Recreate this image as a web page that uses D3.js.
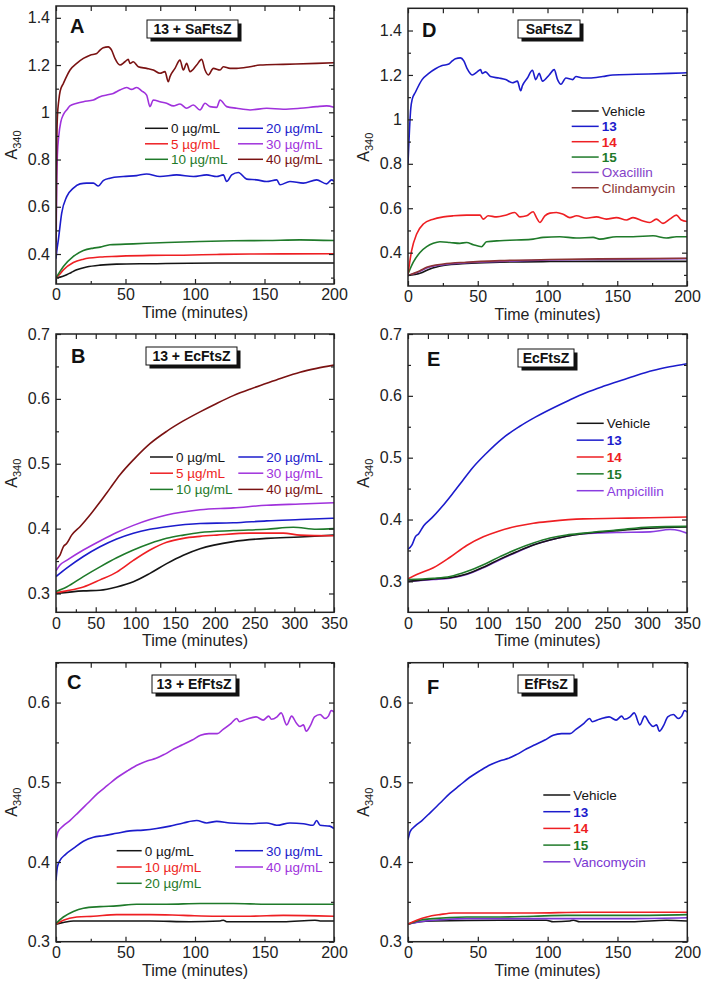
<!DOCTYPE html>
<html>
<head>
<meta charset="utf-8">
<script src="https://cdn.jsdelivr.net/npm/d3@7"></script>
<style>
  body { margin: 0; background: #fff; }
  text { font-family: Arial, "Liberation Sans", sans-serif; }
</style>
</head>
<body>
<svg id="fig" width="703" height="985"></svg>
<script>
// ---- SaFtsZ (panel A: 13 at several concentrations) ----
var sa0  = [[0,0.300],[3,0.302],[7.7,0.312],[11,0.322],[14.9,0.333],[22,0.345],[31.7,0.353],[43.6,0.357],[67.6,0.359],[115.6,0.362],[163.5,0.362],[200,0.362]];
var sa5  = [[0,0.300],[2,0.310],[5.3,0.333],[12.5,0.364],[19.7,0.378],[31.7,0.387],[43.6,0.390],[67.6,0.394],[91.6,0.395],[115.6,0.398],[139.6,0.400],[200,0.401]];
var sa10 = [[0,0.300],[2,0.318],[5.3,0.347],[12.5,0.390],[19.7,0.415],[26.9,0.425],[31.7,0.429],[38.8,0.439],[55.6,0.443],[79.6,0.449],[103.6,0.453],[127.6,0.456],[151.6,0.457],[175.5,0.460],[200,0.457]];
var sa20 = [[0,0.38],[0.5,0.41],[1.7,0.46],[4.1,0.573],[7.7,0.643],[12.5,0.679],[17.3,0.697],[22,0.700],[26.9,0.700],[30.5,0.688],[34,0.711],[38.8,0.721],[48.4,0.728],[58,0.732],[65.2,0.739],[74.8,0.728],[86.8,0.735],[98.8,0.728],[108.4,0.735],[115.6,0.728],[120.4,0.735],[122.8,0.707],[126.4,0.735],[131.2,0.745],[137.2,0.717],[144.4,0.714],[151.6,0.707],[158.8,0.714],[161.2,0.693],[168.3,0.707],[177.9,0.700],[187.5,0.714],[194.7,0.697],[198.3,0.714],[200,0.707]];
var sa30 = [[0,0.40],[0.5,0.70],[1,0.82],[2,0.90],[3.5,0.96],[5.3,0.99],[8,1.012],[10,1.027],[15,1.038],[19.7,1.045],[26.9,1.052],[31.7,1.066],[36.5,1.073],[41.2,1.080],[46,1.094],[50.8,1.105],[54.4,1.097],[58,1.105],[61.6,1.091],[65.2,1.073],[67.6,1.024],[70,1.052],[74.8,1.045],[79.6,1.038],[84.4,1.027],[89.2,1.035],[94,1.017],[98.8,1.031],[103.6,1.010],[107.2,1.038],[110.8,1.024],[115.6,1.021],[118,1.052],[122.8,1.024],[130,1.017],[139.6,1.010],[151.6,1.017],[163.5,1.013],[175.5,1.017],[187.5,1.024],[194.7,1.027],[200,1.021]];
var sa40 = [[0,0.45],[0.5,0.85],[1,0.98],[2,1.05],[3,1.09],[5.3,1.122],[10.1,1.179],[14.9,1.207],[19.7,1.228],[24.5,1.242],[29.3,1.249],[31.7,1.263],[34,1.273],[37.6,1.277],[40,1.263],[42.4,1.228],[46,1.200],[49.6,1.214],[52,1.224],[53.2,1.207],[55.6,1.214],[59.2,1.193],[65.2,1.186],[70,1.179],[74.8,1.165],[78.4,1.172],[80.8,1.129],[82,1.151],[85.6,1.186],[89.2,1.221],[91.6,1.179],[94,1.207],[96.4,1.172],[101.2,1.200],[104.8,1.224],[107.2,1.179],[109.6,1.158],[113.2,1.186],[118,1.179],[120.4,1.193],[125.2,1.186],[130,1.186],[139.6,1.193],[146.8,1.200],[163.5,1.203],[187.5,1.207],[200,1.210]];

// ---- SaFtsZ (panel D: compounds and antibiotics) ----
var saVeh = [[0,0.297],[8.6,0.307],[15.8,0.327],[25.3,0.342],[42,0.352],[65.9,0.357],[101.7,0.360],[137.5,0.361],[200,0.361]];
var sa13  = [[0,0.80]].concat(sa40.slice(3));
var sa14  = [[0,0.304],[2.6,0.409],[6.2,0.484],[11,0.529],[18.1,0.551],[25.3,0.561],[32.5,0.566],[42,0.569],[51.6,0.569],[53.9,0.551],[57.5,0.566],[63.5,0.561],[70.6,0.570],[76.6,0.581],[80.2,0.561],[85,0.566],[89.7,0.584],[92.1,0.558],[94.5,0.536],[98.1,0.566],[101.7,0.578],[106.4,0.581],[111.2,0.573],[116,0.558],[120.8,0.566],[127.9,0.555],[135.1,0.561],[142.2,0.551],[149.4,0.558],[156.6,0.547],[161.3,0.558],[168.5,0.543],[173.3,0.536],[178,0.551],[182.8,0.532],[187.6,0.551],[192.4,0.569],[196,0.547],[200,0.540]];
var sa15  = [[0,0.304],[3.8,0.357],[8.6,0.401],[13.4,0.427],[18.1,0.442],[22.9,0.449],[30,0.446],[37.2,0.442],[42,0.446],[46.8,0.436],[52.7,0.427],[56.3,0.449],[65.9,0.454],[77.8,0.457],[89.7,0.461],[96.9,0.469],[108.8,0.472],[120.8,0.466],[132.7,0.469],[137.5,0.461],[149.4,0.472],[161.3,0.472],[175.7,0.476],[185.2,0.466],[192.4,0.472],[200,0.472]];
var saOxa = [[0,0.297],[8.6,0.316],[13.4,0.331],[25.3,0.346],[42,0.355],[65.9,0.361],[101.7,0.367],[137.5,0.370],[200,0.373]];
var saCli = [[0,0.297],[8.6,0.319],[13.4,0.334],[25.3,0.349],[42,0.357],[65.9,0.364],[101.7,0.369],[137.5,0.372],[200,0.375]];

// ---- EcFtsZ (panel B) ----
var ec0  = [[0,0.300],[34.4,0.304],[55.4,0.305],[76.4,0.310],[97.4,0.318],[118.3,0.331],[139.3,0.346],[160.3,0.359],[181.3,0.369],[223.2,0.380],[265.2,0.385],[307.2,0.387],[350,0.390]];
var ec5  = [[0,0.301],[13.4,0.304],[34.4,0.310],[55.4,0.321],[76.4,0.333],[97.4,0.351],[118.3,0.367],[139.3,0.379],[160.3,0.385],[181.3,0.388],[202.3,0.390],[244.2,0.393],[286.2,0.393],[307.2,0.390],[350,0.389]];
var ec10 = [[0,0.303],[13.4,0.310],[34.4,0.326],[55.4,0.341],[76.4,0.355],[97.4,0.367],[118.3,0.377],[139.3,0.385],[160.3,0.390],[181.3,0.394],[223.2,0.397],[265.2,0.399],[298.8,0.402],[328,0.399],[350,0.400]];
var ec20 = [[0,0.326],[13.4,0.339],[34.4,0.357],[55.4,0.372],[76.4,0.384],[97.4,0.393],[118.3,0.399],[139.3,0.403],[181.3,0.408],[223.2,0.409],[265.2,0.412],[307.2,0.414],[350,0.416]];
var ec30 = [[0,0.335],[5,0.344],[13.4,0.351],[34.4,0.367],[55.4,0.381],[76.4,0.394],[97.4,0.405],[118.3,0.414],[139.3,0.421],[181.3,0.429],[223.2,0.432],[265.2,0.436],[307.2,0.438],[350,0.440]];
var ec40 = [[0,0.352],[5,0.359],[9.2,0.372],[13.4,0.377],[19.7,0.390],[30.2,0.403],[42.8,0.421],[55.4,0.441],[68,0.462],[80.6,0.483],[97.4,0.506],[118.3,0.531],[139.3,0.550],[160.3,0.566],[181.3,0.580],[202.3,0.593],[223.2,0.605],[244.2,0.615],[265.2,0.624],[286.2,0.633],[307.2,0.641],[328.2,0.647],[350,0.652]];

// ---- EcFtsZ (panel E) ----
var ecVeh = [[0,0.300],[31.8,0.304],[52.7,0.306],[73.6,0.312],[94.5,0.323],[115.4,0.336],[136.3,0.348],[157.3,0.359],[178.2,0.367],[199,0.373],[220,0.377],[261.8,0.382],[303.6,0.386],[350,0.388]];
var ec13  = ec40;
var ec14  = [[0,0.304],[10.9,0.311],[31.8,0.322],[52.7,0.339],[73.6,0.358],[94.5,0.372],[115.4,0.382],[136.3,0.389],[157.3,0.394],[178.2,0.397],[220,0.401],[261.8,0.402],[303.6,0.403],[350,0.404]];
var ec15  = [[0,0.303],[31.8,0.305],[52.7,0.308],[73.6,0.316],[94.5,0.327],[115.4,0.340],[136.3,0.352],[157.3,0.362],[178.2,0.370],[199,0.375],[220,0.378],[261.8,0.383],[303.6,0.388],[350,0.389]];
var ecAmp = [[0,0.300],[31.8,0.303],[52.7,0.305],[73.6,0.311],[94.5,0.322],[115.4,0.335],[136.3,0.347],[157.3,0.359],[178.2,0.367],[199,0.373],[220,0.377],[261.8,0.379],[303.6,0.380],[328.7,0.384],[341,0.382],[350,0.378]];

// ---- EfFtsZ (panel C) ----
var ef0  = [[0,0.322],[5.3,0.324],[12.5,0.326],[31.7,0.326],[67.6,0.326],[96.4,0.325],[118,0.326],[120.4,0.327],[122.8,0.325],[139.6,0.325],[163.5,0.325],[186.3,0.327],[190,0.326],[200,0.326]];
var ef10 = [[0,0.322],[5.3,0.327],[14.9,0.331],[26.9,0.332],[43.6,0.334],[67.6,0.334],[91.6,0.333],[115.6,0.332],[139.6,0.332],[163.5,0.333],[200,0.332]];
var ef20 = [[0,0.323],[5.3,0.331],[12.5,0.338],[19.7,0.342],[31.7,0.344],[43.6,0.345],[58,0.347],[79.6,0.347],[103.6,0.348],[127.6,0.348],[151.6,0.347],[175.5,0.347],[200,0.347]];
var ef30 = [[0,0.377],[1,0.394],[2.9,0.402],[6.5,0.409],[12.5,0.417],[19.7,0.426],[26.9,0.431],[34,0.433],[43.6,0.436],[53.2,0.439],[62.8,0.440],[72.4,0.442],[82,0.445],[91.6,0.449],[101.2,0.452],[108.4,0.449],[115.6,0.451],[125.2,0.449],[139.6,0.448],[151.6,0.449],[158.8,0.446],[168.3,0.449],[178,0.448],[185,0.446],[187.5,0.452],[190,0.446],[197,0.445],[200,0.442]];
var ef40 = [[0,0.428],[1.5,0.438],[5,0.445],[10,0.452],[16,0.462],[23,0.474],[30,0.486],[37,0.496],[44,0.506],[52,0.515],[59,0.522],[66,0.527],[72,0.530],[78,0.535],[85,0.542],[91,0.547],[98,0.553],[104,0.559],[110,0.561],[116,0.561],[120,0.566],[126,0.574],[130,0.580],[132,0.576],[137,0.579],[144,0.582],[149,0.578],[153,0.583],[155,0.579],[159,0.582],[162,0.587],[166,0.572],[169.5,0.583],[173,0.574],[175.5,0.570],[178,0.572],[180,0.564],[183,0.571],[186,0.582],[190,0.585],[193.5,0.580],[196,0.583],[198,0.590],[200,0.588]];

// ---- EfFtsZ (panel F) ----
var efVeh = [[0,0.322],[8.6,0.325],[18.1,0.326],[65.9,0.327],[99,0.327],[104,0.325],[116,0.326],[118.5,0.327],[123,0.325],[160,0.325],[185.2,0.327],[200,0.326]];
var ef13  = ef40;
var ef14  = [[0,0.322],[6.2,0.327],[13.4,0.331],[22.9,0.334],[32.5,0.336],[54,0.336],[89.7,0.336],[125.5,0.337],[161.3,0.337],[200,0.337]];
var ef15  = [[0,0.322],[8.6,0.327],[18.1,0.329],[42,0.331],[65.9,0.331],[89.7,0.332],[113.6,0.333],[161.3,0.333],[200,0.334]];
var efVan = [[0,0.322],[8.6,0.325],[18.1,0.327],[42,0.329],[89.7,0.329],[113.6,0.329],[161.3,0.329],[200,0.330]];

// legend labels
var concAB = ["0 µg/mL","5 µg/mL","10 µg/mL","20 µg/mL","30 µg/mL","40 µg/mL"];
var concC  = ["0 µg/mL","10 µg/mL","20 µg/mL","30 µg/mL","40 µg/mL"];
var cmpD   = ["Vehicle","13","14","15","Oxacillin","Clindamycin"];
var cmpE   = ["Vehicle","13","14","15","Ampicillin"];
var cmpF   = ["Vehicle","13","14","15","Vancomycin"];

// colours
var cBlack = "#151515", cRed = "#ee1f23", cGreen = "#1f7a2a", cBlue = "#1c1ccc",
    cPurple = "#a032dc", cBrown = "#7a1212", cOxa = "#8442c8", cCli = "#8c3434",
    cAmp = "#8a3ce0", cVan = "#7a36d2";

var xTicks200 = [0,50,100,150,200], xMinor200 = [25,75,125,175];
var xTicks350 = [0,50,100,150,200,250,300,350], xMinor350 = [25,75,125,175,225,275,325];

var panels = [
  {id:"A", box:[56,6,334,284], xd:[0,200], yd:[0.273,1.45], xt:xTicks200, xm:xMinor200,
   yt:[0.4,0.6,0.8,1,1.2,1.4], ym:[0.3,0.5,0.7,0.9,1.1,1.3],
   title:"13 + SaFtsZ", tb:[147,20,91,18], letter:[70,33],
   series:[sa0,sa5,sa10,sa20,sa30,sa40], colors:[cBlack,cRed,cGreen,cBlue,cPurple,cBrown],
   labels:concAB, bold:[0,0,0,0,0,0],
   leg:{cols:[145,238], len:[23,25], rows:3, y0:128.3, dy:15.5}},
  {id:"D", box:[408,8.3,687,286], xd:[0,200], yd:[0.25,1.5], xt:xTicks200, xm:xMinor200,
   yt:[0.4,0.6,0.8,1,1.2,1.4], ym:[0.3,0.5,0.7,0.9,1.1,1.3],
   title:"SaFtsZ", tb:[518,20,62,18], letter:[422,37],
   series:[saVeh,saOxa,saCli,sa15,sa14,sa13], colors:[cBlack,cOxa,cCli,cGreen,cRed,cBlue],
   legSeries:[cBlack,cBlue,cRed,cGreen,cOxa,cCli],
   labels:cmpD, bold:[0,1,1,1,0,0],
   leg:{cols:[571.7], len:[27], rows:6, y0:111, dy:15.35}},
  {id:"B", box:[56,334,334,612.3], xd:[0,350], yd:[0.271,0.7], xt:xTicks350, xm:xMinor350,
   yt:[0.3,0.4,0.5,0.6,0.7], ym:[0.35,0.45,0.55,0.65],
   title:"13 + EcFtsZ", tb:[146,347,91,18], letter:[71,363],
   series:[ec0,ec5,ec10,ec20,ec30,ec40], colors:[cBlack,cRed,cGreen,cBlue,cPurple,cBrown],
   labels:concAB, bold:[0,0,0,0,0,0],
   leg:{cols:[150,238.3], len:[23,25], rows:3, y0:457, dy:16.2}},
  {id:"E", box:[408,334,687,612.3], xd:[0,350], yd:[0.25,0.7], xt:xTicks350, xm:xMinor350,
   yt:[0.3,0.4,0.5,0.6,0.7], ym:[0.35,0.45,0.55,0.65],
   title:"EcFtsZ", tb:[518,349,56,18], letter:[427,366],
   series:[ec14,ecAmp,ecVeh,ec15,ec13], colors:[cRed,cAmp,cBlack,cGreen,cBlue],
   legSeries:[cBlack,cBlue,cRed,cGreen,cAmp],
   labels:cmpE, bold:[0,1,1,1,0],
   leg:{cols:[576.7], len:[27], rows:5, y0:423.3, dy:16.85}},
  {id:"C", box:[56,662.7,334,941.7], xd:[0,200], yd:[0.3,0.65], xt:xTicks200, xm:xMinor200,
   yt:[0.3,0.4,0.5,0.6], ym:[0.35,0.45,0.55,0.65],
   title:"13 + EfFtsZ", tb:[152,675,84,18], letter:[67,689],
   series:[ef0,ef10,ef20,ef30,ef40], colors:[cBlack,cRed,cGreen,cBlue,cPurple],
   labels:concC, bold:[0,0,0,0,0],
   leg:{cols:[116.7,235], len:[25,28], rows:3, y0:850.7, dy:16.3}},
  {id:"F", box:[408,662.7,687.3,941.7], xd:[0,200], yd:[0.3,0.65], xt:xTicks200, xm:xMinor200,
   yt:[0.3,0.4,0.5,0.6], ym:[0.35,0.45,0.55,0.65],
   title:"EfFtsZ", tb:[518,675,56,18], letter:[427,694],
   series:[efVeh,efVan,ef15,ef14,ef13], colors:[cBlack,cVan,cGreen,cRed,cBlue],
   legSeries:[cBlack,cBlue,cRed,cGreen,cVan],
   labels:cmpF, bold:[0,1,1,1,0],
   leg:{cols:[543.3], len:[27], rows:5, y0:795, dy:16.7}}
];

var svg = d3.select("#fig");
var fmt = function(v){ return String(Math.round(v*100)/100); };

panels.forEach(function(p){
  var x0 = p.box[0], y0 = p.box[1], x1 = p.box[2], y1 = p.box[3];
  var x = d3.scaleLinear().domain(p.xd).range([x0, x1]);
  var y = d3.scaleLinear().domain(p.yd).range([y1, y0]);
  var g = svg.append("g");

  g.append("clipPath").attr("id","clip"+p.id)
    .append("rect").attr("x",x0).attr("y",y0).attr("width",x1-x0).attr("height",y1-y0);

  var line = d3.line()
    .x(function(d){ return x(d[0]); })
    .y(function(d){ return y(d[1]); })
    .curve(d3.curveMonotoneX);

  g.append("g").attr("clip-path","url(#clip"+p.id+")")
    .selectAll("path").data(p.series).enter().append("path")
    .attr("d", line)
    .attr("fill","none")
    .attr("stroke", function(d,i){ return p.colors[i]; })
    .attr("stroke-width",1.6)
    .attr("stroke-linejoin","round");

  // axes, ticks pointing inwards on all four sides
  function style(sel){
    sel.select(".domain").remove();
    sel.attr("font-size",16).attr("font-family","Arial, 'Liberation Sans', sans-serif");
    sel.selectAll("line").attr("stroke","#222").attr("stroke-width",1.2);
    sel.selectAll("text").attr("fill","#222");
  }
  g.append("g").attr("transform","translate("+x0+",0)")
    .call(d3.axisLeft(y).tickValues(p.yt).tickSize(-5).tickPadding(6).tickFormat(fmt)).call(style);
  g.append("g").attr("transform","translate("+x0+",0)")
    .call(d3.axisLeft(y).tickValues(p.ym).tickSize(-3).tickFormat("")).call(style);
  g.append("g").attr("transform","translate("+x1+",0)")
    .call(d3.axisRight(y).tickValues(p.yt).tickSize(-5).tickFormat("")).call(style);
  g.append("g").attr("transform","translate("+x1+",0)")
    .call(d3.axisRight(y).tickValues(p.ym).tickSize(-3).tickFormat("")).call(style);
  g.append("g").attr("transform","translate(0,"+y1+")")
    .call(d3.axisBottom(x).tickValues(p.xt).tickSize(-5).tickPadding(5).tickFormat(fmt)).call(style);
  g.append("g").attr("transform","translate(0,"+y1+")")
    .call(d3.axisBottom(x).tickValues(p.xm).tickSize(-3).tickFormat("")).call(style);
  g.append("g").attr("transform","translate(0,"+y0+")")
    .call(d3.axisTop(x).tickValues(p.xt.concat(p.xm)).tickSize(-5).tickFormat("")).call(style);

  g.append("rect").attr("x",x0).attr("y",y0).attr("width",x1-x0).attr("height",y1-y0)
    .attr("fill","none").attr("stroke","#222").attr("stroke-width",1.5);

  // axis titles
  g.append("text").attr("x",(x0+x1)/2).attr("y",y1+34).attr("text-anchor","middle")
    .attr("font-size",16).attr("fill","#222").text("Time (minutes)");
  var yl = g.append("text")
    .attr("transform","translate("+(x0-39)+","+((y0+y1)/2)+") rotate(-90)")
    .attr("text-anchor","middle").attr("font-size",16).attr("fill","#222");
  yl.append("tspan").text("A");
  yl.append("tspan").attr("font-size",11).attr("dy",4).text("340");

  // panel letter
  g.append("text").attr("x",p.letter[0]).attr("y",p.letter[1])
    .attr("font-size",20).attr("font-weight","bold").attr("fill","#111").text(p.id);

  // title box with shadow
  var tb = p.tb;
  g.append("rect").attr("x",tb[0]+3.5).attr("y",tb[1]+3.5).attr("width",tb[2]).attr("height",tb[3]).attr("fill","#111");
  g.append("rect").attr("x",tb[0]).attr("y",tb[1]).attr("width",tb[2]).attr("height",tb[3])
    .attr("fill","#fff").attr("stroke","#111").attr("stroke-width",1);
  g.append("text").attr("x",tb[0]+tb[2]/2).attr("y",tb[1]+tb[3]/2).attr("dy","0.36em")
    .attr("text-anchor","middle").attr("font-size",14).attr("font-weight","bold").attr("fill","#111").text(p.title);

  // legend
  var lc = p.legSeries || p.colors;
  p.labels.forEach(function(lab,i){
    var col = Math.floor(i/p.leg.rows), row = i % p.leg.rows;
    var lx = p.leg.cols[col], len = p.leg.len[col], ly = p.leg.y0 + row*p.leg.dy;
    g.append("line").attr("x1",lx).attr("x2",lx+len).attr("y1",ly).attr("y2",ly)
      .attr("stroke",lc[i]).attr("stroke-width",1.5);
    g.append("text").attr("x",lx+len+3).attr("y",ly).attr("dy","0.36em")
      .attr("font-size",13.5).attr("font-weight",p.bold[i]?"bold":"normal")
      .attr("fill",lc[i]).text(lab);
  });
});
</script>
</body>
</html>
